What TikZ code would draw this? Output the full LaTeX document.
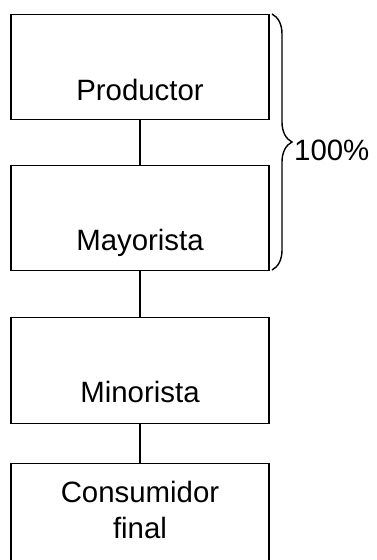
\documentclass[tikz,border=0pt]{standalone}
\usepackage{fontspec}
\setmainfont{Liberation Sans}
\usepackage{tikz}
\usetikzlibrary{decorations.pathreplacing}

\begin{document}
\begin{tikzpicture}[x=1pt,y=-1pt,
  caja/.style={draw,line width=1.4pt,inner sep=0pt,minimum width=258pt,anchor=north,
    font=\fontsize{29.4}{36}\selectfont},
  linea/.style={line width=1.4pt}]
  \useasboundingbox (0,0) rectangle (377,560);
  \clip (0,0) rectangle (377,560);

  % cajas del canal
  \node[caja,text height=86pt,text depth=19pt] (prod) at (140,14) {Productor};
  \node[caja,text height=85pt,text depth=20pt] (may) at (140,165) {Mayorista};
  \node[caja,text height=85pt,text depth=21pt] (mino) at (140,317) {Minorista};
  \node[caja,align=center,text height=75pt,text depth=26pt] (cons) at (140,463) {Consumidor\\final};

  % uniones
  \draw[linea] (prod.south) -- (may.north);
  \draw[linea] (may.south) -- (mino.north);
  \draw[linea] (mino.south) -- (cons.north);

  % llave del 100%
  \coordinate (llaveA) at (272,14);
  \coordinate (llaveB) at (272,270);
  \draw[linea,decorate,decoration={brace,amplitude=20pt}] (llaveA) -- (llaveB);
  \node[anchor=base west,inner sep=0pt,font=\fontsize{29.4}{36}\selectfont] (pct) at (294,160) {100\%};
\end{tikzpicture}
\end{document}
